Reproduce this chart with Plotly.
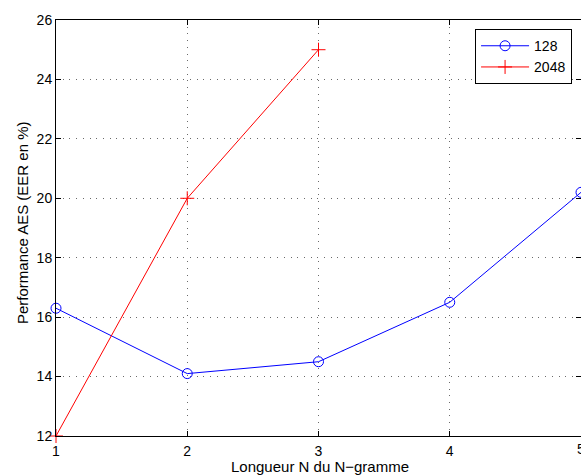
import plotly.graph_objects as go

# N-gram length on the x axis
ngram_len = [1, 2, 3, 4, 5]
# EER (%) for the 128 configuration
eer_128 = [16.3, 14.1, 14.5, 16.5, 20.2]
# EER (%) for the 2048 configuration (only lengths 1..3)
ngram_len_2048 = [1, 2, 3]
eer_2048 = [12.0, 20.0, 25.0]

x_ticks = [1, 2, 3, 4, 5]
y_ticks = [12, 14, 16, 18, 20, 22, 24, 26]

FONT = "Liberation Sans, Arial, Helvetica, sans-serif"

fig = go.Figure()
fig.add_trace(go.Scatter(
    x=ngram_len, y=eer_128, name="128", mode="lines+markers",
    line=dict(color="#0000ff", width=1),
    marker=dict(symbol="circle-open", size=10, color="#0000ff", line=dict(width=1)),
    cliponaxis=False,
))
fig.add_trace(go.Scatter(
    x=ngram_len_2048, y=eer_2048, name="2048", mode="lines+markers",
    line=dict(color="#ff0000", width=1),
    marker=dict(symbol="cross-thin-open", size=10, color="#ff0000", line=dict(width=1, color="#ff0000")),
    cliponaxis=False,
))

axis_common = dict(
    showline=True, linecolor="black", linewidth=1, mirror="ticks",
    ticks="inside", ticklen=5, tickcolor="black", tickwidth=1,
    showgrid=True, gridcolor="#6a6a6a", gridwidth=1, griddash="1px,5.7px",
    zeroline=False,
    tickfont=dict(family=FONT, size=14, color="black"),
)

fig.update_xaxes(
    range=[1, 5], tickvals=x_ticks, ticktext=[str(v) for v in x_ticks],
    ticklabelstandoff=2,
    **axis_common,
)
fig.update_yaxes(
    range=[12, 26], tickvals=y_ticks, ticktext=[str(v) for v in y_ticks],
    **axis_common,
)

# Axis titles placed as annotations for precise positioning
fig.add_annotation(
    text="Longueur N du N\u2212gramme", xref="paper", yref="paper",
    x=0.503, y=-0.0745, xanchor="center", yanchor="middle", showarrow=False,
    font=dict(family=FONT, size=15, color="black"),
)
fig.add_annotation(
    text="Performance AES (EER en %)", xref="paper", yref="paper",
    x=-0.065, y=0.514, xanchor="center", yanchor="middle", showarrow=False,
    textangle=-90, font=dict(family=FONT, size=15, color="black"),
)
# Tick label for the last position sits on the right edge of the page
fig.add_annotation(
    text=str(x_ticks[-1]), xref="x", yref="paper",
    x=x_ticks[-1], y=0, yshift=-3, xanchor="center", yanchor="top", showarrow=False,
    font=dict(family=FONT, size=14, color="black"),
)

fig.update_layout(
    width=581, height=475,
    margin=dict(l=56, r=0, t=20, b=39),
    paper_bgcolor="white", plot_bgcolor="white",
    font=dict(family=FONT, size=14, color="black"),
    showlegend=True,
    legend=dict(
        x=0.983, y=0.978, xanchor="right", yanchor="top",
        bgcolor="white", bordercolor="black", borderwidth=1,
        font=dict(family=FONT, size=14, color="black"),
        itemwidth=48, tracegroupgap=0,
    ),
)

fig.write_html("out.html")
